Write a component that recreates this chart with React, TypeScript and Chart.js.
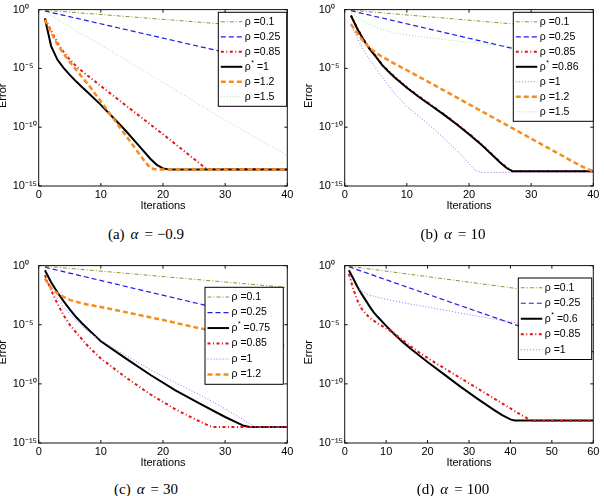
import React, { useEffect, useRef } from 'react';
import { Chart, registerables } from 'chart.js';

Chart.register(...registerables);

// Each series: [iteration, log10(error)] breakpoints of the convergence history.
type Pt = [number, number];

const iterTicks40 = [0, 10, 20, 30, 40];
const iterTicks60 = [0, 10, 20, 30, 40, 50, 60];
const errTickValues = [1, 1e-5, 1e-10, 1e-15];
const errTickLabels = ['10⁰', '10⁻⁵', '10⁻¹⁰', '10⁻¹⁵'];

const panelTags = ['(a)', '(b)', '(c)', '(d)'];
const alphaLabels = ['−0.9', '10', '30', '100'];

// (a) alpha = -0.9
const aRho01: Pt[] = [[1, -0.05], [40, -1.65]];
const aRho025: Pt[] = [[1, -0.12], [40, -4.85]];
const aRho085: Pt[] = [[1, -0.75], [2, -1.8], [3, -2.8], [4, -3.6], [5, -4.25], [6, -4.8], [7, -5.25], [10, -6.5], [15, -8.55], [20, -10.6], [25, -12.7], [27, -13.55], [40, -13.6]];
const aRhoStar: Pt[] = [[1, -0.75], [2, -3.1], [3, -4.25], [4, -4.95], [5, -5.55], [6, -6.1], [7, -6.6], [8, -7.1], [10, -8.1], [12, -9.2], [14, -10.3], [16, -11.5], [18, -12.7], [19, -13.2], [20, -13.5], [21, -13.6], [40, -13.6]];
const aRho12: Pt[] = [[1, -0.85], [2, -1.95], [3, -2.95], [4, -3.75], [5, -4.45], [6, -5.1], [7, -5.75], [8, -6.4], [10, -7.8], [12, -9.25], [14, -10.7], [16, -12.15], [17, -12.85], [18, -13.5], [19, -13.6], [40, -13.6]];
const aRho15: Pt[] = [[1, -0.2], [3, -0.8], [6, -1.8], [10, -3.0], [20, -6.2], [30, -9.4], [40, -12.4]];

// (b) alpha = 10
const bRho01: Pt[] = [[1, -0.05], [40, -1.8]];
const bRho025: Pt[] = [[1, -0.1], [40, -4.9]];
const bRho085: Pt[] = [[1, -0.5], [2, -1.55], [3, -2.5], [4, -3.3], [5, -3.95], [6, -4.65], [7, -5.2], [8, -5.7], [10, -6.6], [12, -7.4], [14, -8.15], [16, -8.9], [18, -9.7], [20, -10.55], [22, -11.45], [24, -12.45], [25, -12.95], [26, -13.4], [27, -13.75], [40, -13.75]];
const bRhoStar: Pt[] = [[1, -0.5], [2, -1.6], [3, -2.55], [4, -3.35], [5, -4.0], [6, -4.7], [7, -5.25], [8, -5.75], [10, -6.65], [12, -7.45], [14, -8.2], [16, -8.95], [18, -9.75], [20, -10.6], [22, -11.5], [24, -12.5], [25, -13.0], [26, -13.45], [27, -13.75], [40, -13.75]];
const bRho1: Pt[] = [[1, -1.2], [2, -2.4], [3, -3.4], [4, -4.25], [5, -5.0], [6, -5.7], [7, -6.4], [8, -7.1], [10, -8.25], [12, -9.1], [14, -10.0], [16, -10.95], [18, -11.95], [19, -12.5], [20, -13.1], [21, -13.7], [22, -13.85], [40, -13.85]];
const bRho12: Pt[] = [[1, -1.25], [2, -2.0], [3, -2.7], [4, -3.25], [5, -3.65], [6, -4.0], [8, -4.6], [10, -5.15], [14, -6.3], [20, -8.05], [26, -9.8], [32, -11.55], [38, -13.3], [40, -13.75]];
const bRho15: Pt[] = [[1, -0.3], [3, -1.0], [5, -1.5], [8, -2.0], [12, -2.3], [16, -2.55], [40, -3.9]];

// (c) alpha = 30
const cRho01: Pt[] = [[1, -0.05], [40, -1.85]];
const cRho025: Pt[] = [[1, -0.14], [40, -5.0]];
const cRhoStar: Pt[] = [[1, -0.4], [2, -1.4], [3, -2.25], [4, -3.0], [5, -3.7], [6, -4.35], [7, -4.9], [8, -5.4], [9, -5.9], [10, -6.4], [14, -7.85], [18, -9.25], [22, -10.55], [26, -11.7], [30, -12.8], [32, -13.3], [33, -13.55], [34, -13.65], [40, -13.65]];
const cRho085: Pt[] = [[1, -0.8], [2, -2.1], [3, -3.2], [4, -4.2], [5, -5.0], [6, -5.65], [7, -6.25], [8, -6.85], [10, -7.85], [14, -9.45], [18, -10.9], [22, -12.15], [25, -12.95], [27, -13.45], [28, -13.65], [40, -13.65]];
const cRho1: Pt[] = [[1, -1.0], [2, -2.0], [3, -2.8], [4, -3.5], [5, -4.1], [6, -4.65], [7, -5.15], [8, -5.6], [10, -6.3], [14, -7.6], [18, -8.8], [22, -9.9], [26, -10.95], [30, -12.1], [32, -12.75], [34, -13.4], [35, -13.65], [40, -13.65]];
const cRho12: Pt[] = [[1, -1.1], [2, -1.9], [3, -2.35], [4, -2.65], [5, -2.9], [7, -3.2], [10, -3.5], [15, -4.05], [20, -4.6], [25, -5.2], [30, -5.75], [35, -6.3], [40, -6.85]];

// (d) alpha = 100
const dRho01: Pt[] = [[1, -0.05], [60, -2.8]];
const dRho025: Pt[] = [[1, -0.1], [60, -7.3]];
const dRhoStar: Pt[] = [[1, -0.4], [2, -1.05], [3, -1.75], [4, -2.35], [5, -2.9], [6, -3.45], [7, -3.95], [8, -4.35], [10, -5.1], [12, -5.8], [14, -6.45], [16, -7.05], [18, -7.6], [20, -8.15], [24, -9.2], [28, -10.25], [32, -11.25], [36, -12.2], [38, -12.65], [40, -13.0], [41, -13.1], [60, -13.1]];
const dRho085: Pt[] = [[1, -0.7], [2, -1.9], [3, -2.9], [4, -3.6], [5, -4.05], [6, -4.4], [8, -4.9], [10, -5.3], [12, -5.75], [14, -6.3], [16, -6.85], [18, -7.35], [20, -7.8], [22, -8.25], [26, -9.1], [30, -9.95], [34, -10.8], [38, -11.65], [42, -12.5], [45, -13.1], [46, -13.15], [60, -13.15]];
const dRho1: Pt[] = [[1, -0.8], [2, -1.5], [3, -1.9], [4, -2.15], [6, -2.5], [10, -2.85], [15, -3.2], [20, -3.5], [30, -4.15], [40, -4.75], [50, -5.3], [60, -5.85]];

type LineStyle = { color: string; width: number; dash: number[] };

const styles: Record<string, LineStyle> = {
  olive: { color: 'rgb(135,150,50)', width: 1, dash: [4, 2, 1, 2] },
  blue: { color: 'rgb(30,30,230)', width: 1.2, dash: [5, 3] },
  red: { color: 'rgb(230,20,20)', width: 2, dash: [3, 2.5, 1, 2.5] },
  black: { color: '#000', width: 2, dash: [] },
  orange: { color: 'rgb(245,140,30)', width: 2.5, dash: [5, 3] },
  green: { color: 'rgb(165,222,155)', width: 1, dash: [1, 2] },
  purple: { color: 'rgb(150,110,240)', width: 1, dash: [1, 2] },
};

type Series = { label: string; pts: Pt[]; style: string };
type LegendSpec = { right: number; top: number; width: number; rowH: number };
type PanelSpec = {
  left: number;
  top: number;
  height: number;
  xMax: number;
  xTicks: number[];
  series: Series[];
  legend: LegendSpec;
};

const FONT = '"Liberation Sans", Arial, Helvetica, sans-serif';
const CANVAS_W = 310;

function drawLegendLabel(ctx: CanvasRenderingContext2D, label: string, x: number, y: number) {
  ctx.fillStyle = '#000';
  ctx.textBaseline = 'middle';
  ctx.textAlign = 'left';
  const main = `10.5px ${FONT}`;
  const parts = label.split('*');
  ctx.font = main;
  ctx.fillText(parts[0], x, y);
  let cx = x + ctx.measureText(parts[0]).width;
  if (parts.length > 1) {
    ctx.font = `7px ${FONT}`;
    ctx.fillText('*', cx + 0.5, y - 4);
    cx += ctx.measureText('*').width + 0.5;
    ctx.font = main;
    ctx.fillText(parts[1], cx, y);
  }
}

// Axes box with inward ticks on all sides, y-axis title and a boxed legend.
const panelFrame = {
  id: 'panelFrame',
  afterDatasetsDraw(chart: any, _args: any, opts: any) {
    const { ctx, chartArea, scales } = chart;
    const { left, top, right, bottom } = chartArea;
    ctx.save();
    ctx.setLineDash([]);
    ctx.strokeStyle = '#111';
    ctx.lineWidth = 1;
    ctx.beginPath();
    const tl = 3;
    scales.x.ticks.forEach((t: any) => {
      const px = scales.x.getPixelForValue(t.value);
      ctx.moveTo(px, bottom);
      ctx.lineTo(px, bottom - tl);
      ctx.moveTo(px, top);
      ctx.lineTo(px, top + tl);
    });
    scales.y.ticks.forEach((t: any) => {
      const py = scales.y.getPixelForValue(t.value);
      ctx.moveTo(left, py);
      ctx.lineTo(left + tl, py);
      ctx.moveTo(right, py);
      ctx.lineTo(right - tl, py);
    });
    ctx.stroke();
    ctx.strokeRect(left, top, right - left, bottom - top);

    // y-axis title
    ctx.save();
    ctx.translate(opts.titleX, (top + bottom) / 2 - 2);
    ctx.rotate(-Math.PI / 2);
    ctx.font = `11px ${FONT}`;
    ctx.fillStyle = '#000';
    ctx.textAlign = 'center';
    ctx.textBaseline = 'middle';
    ctx.fillText('Error', 0, 0);
    ctx.restore();

    // legend
    const lg: LegendSpec = opts.legend;
    const datasets = chart.data.datasets;
    const h = datasets.length * lg.rowH + 4;
    const x0 = right - lg.right - lg.width;
    const y0 = top + lg.top;
    ctx.fillStyle = '#fff';
    ctx.fillRect(x0, y0, lg.width, h);
    ctx.strokeStyle = '#000';
    ctx.lineWidth = 1;
    ctx.strokeRect(x0, y0, lg.width, h);
    datasets.forEach((ds: any, i: number) => {
      const cy = y0 + 2 + lg.rowH * (i + 0.5);
      ctx.save();
      ctx.strokeStyle = ds.borderColor;
      ctx.lineWidth = ds.borderWidth;
      ctx.setLineDash(ds.borderDash || []);
      ctx.beginPath();
      ctx.moveTo(x0 + 2.5, cy);
      ctx.lineTo(x0 + 24, cy);
      ctx.stroke();
      ctx.restore();
      drawLegendLabel(ctx, ds.label, x0 + 26.5, cy);
    });
    ctx.restore();
  },
};

function buildConfig(spec: PanelSpec): any {
  const n = spec.series.length;
  const tickFont = { family: FONT, size: 11 };
  return {
    type: 'line',
    data: {
      datasets: spec.series.map((s, i) => {
        const st = styles[s.style];
        return {
          label: s.label,
          data: s.pts.map(([k, e]) => ({ x: k, y: Math.pow(10, e) })),
          borderColor: st.color,
          borderWidth: st.width,
          borderDash: st.dash,
          pointRadius: 0,
          fill: false,
          tension: 0,
          order: n - i,
        };
      }),
    },
    options: {
      animation: false,
      responsive: false,
      maintainAspectRatio: false,
      events: [],
      layout: { padding: { left: 22.7, right: 12.7, top: 8.3, bottom: 0 } },
      plugins: {
        legend: { display: false },
        tooltip: { enabled: false },
        panelFrame: { titleX: 13, legend: spec.legend },
      },
      scales: {
        x: {
          type: 'linear',
          min: 0,
          max: spec.xMax,
          grid: { display: false, drawTicks: false },
          border: { display: false },
          ticks: { padding: 2, color: '#000', font: tickFont, autoSkip: false },
          afterBuildTicks: (s: any) => {
            s.ticks = spec.xTicks.map((v) => ({ value: v }));
          },
          afterFit: (s: any) => {
            s.height = 29;
          },
          title: {
            display: true,
            text: 'Iterations',
            color: '#000',
            font: tickFont,
            padding: { top: 0, bottom: 2 },
          },
        },
        y: {
          type: 'logarithmic',
          min: 1e-15,
          max: 1,
          grid: { display: false, drawTicks: false },
          border: { display: false },
          ticks: {
            crossAlign: 'far',
            color: '#000',
            font: tickFont,
            autoSkip: false,
            callback: (v: number) => {
              const i = errTickValues.indexOf(v);
              return i >= 0 ? errTickLabels[i] : '';
            },
          },
          afterBuildTicks: (s: any) => {
            s.ticks = errTickValues.map((v) => ({ value: v }));
          },
          afterFit: (s: any) => {
            s.width = 26;
          },
        },
      },
    },
    plugins: [panelFrame],
  };
}

const panels: PanelSpec[] = [
  {
    left: -10, top: 0, height: 215, xMax: 40, xTicks: iterTicks40,
    legend: { right: 0.6, top: 2.7, width: 68.4, rowH: 15 },
    series: [
      { label: 'ρ =0.1', pts: aRho01, style: 'olive' },
      { label: 'ρ =0.25', pts: aRho025, style: 'blue' },
      { label: 'ρ =0.85', pts: aRho085, style: 'red' },
      { label: 'ρ* =1', pts: aRhoStar, style: 'black' },
      { label: 'ρ =1.2', pts: aRho12, style: 'orange' },
      { label: 'ρ =1.5', pts: aRho15, style: 'green' },
    ],
  },
  {
    left: 296, top: 0, height: 215, xMax: 40, xTicks: iterTicks40,
    legend: { right: 0, top: 2.7, width: 80, rowH: 15 },
    series: [
      { label: 'ρ =0.1', pts: bRho01, style: 'olive' },
      { label: 'ρ =0.25', pts: bRho025, style: 'blue' },
      { label: 'ρ =0.85', pts: bRho085, style: 'red' },
      { label: 'ρ* =0.86', pts: bRhoStar, style: 'black' },
      { label: 'ρ =1', pts: bRho1, style: 'purple' },
      { label: 'ρ =1.2', pts: bRho12, style: 'orange' },
      { label: 'ρ =1.5', pts: bRho15, style: 'green' },
    ],
  },
  {
    left: -10, top: 256, height: 216, xMax: 40, xTicks: iterTicks40,
    legend: { right: 4, top: 21.7, width: 78.3, rowH: 15.5 },
    series: [
      { label: 'ρ =0.1', pts: cRho01, style: 'olive' },
      { label: 'ρ =0.25', pts: cRho025, style: 'blue' },
      { label: 'ρ* =0.75', pts: cRhoStar, style: 'black' },
      { label: 'ρ =0.85', pts: cRho085, style: 'red' },
      { label: 'ρ =1', pts: cRho1, style: 'purple' },
      { label: 'ρ =1.2', pts: cRho12, style: 'orange' },
    ],
  },
  {
    left: 296, top: 256, height: 216, xMax: 60, xTicks: iterTicks60,
    legend: { right: 1.6, top: 12.4, width: 73.4, rowH: 15.5 },
    series: [
      { label: 'ρ =0.1', pts: dRho01, style: 'olive' },
      { label: 'ρ =0.25', pts: dRho025, style: 'blue' },
      { label: 'ρ* =0.6', pts: dRhoStar, style: 'black' },
      { label: 'ρ =0.85', pts: dRho085, style: 'red' },
      { label: 'ρ =1', pts: dRho1, style: 'purple' },
    ],
  },
];

const captionCenters = [
  { x: 146, y: 234 },
  { x: 453, y: 234 },
  { x: 146, y: 489 },
  { x: 453, y: 489 },
];

function Panel({ spec }: { spec: PanelSpec }) {
  const ref = useRef<HTMLCanvasElement>(null);
  useEffect(() => {
    if (!ref.current) return;
    const chart = new Chart(ref.current, buildConfig(spec));
    return () => chart.destroy();
  }, [spec]);
  return (
    <canvas
      ref={ref}
      width={CANVAS_W}
      height={spec.height}
      style={{ position: 'absolute', left: spec.left, top: spec.top, width: CANVAS_W, height: spec.height }}
    />
  );
}

function Caption({ tag, alpha, x, y }: { tag: string; alpha: string; x: number; y: number }) {
  return (
    <div
      style={{
        position: 'absolute',
        left: x - 100,
        top: y - 9,
        width: 200,
        height: 18,
        lineHeight: '18px',
        textAlign: 'center',
        fontFamily: '"Liberation Serif", "Times New Roman", serif',
        fontSize: 15,
        color: '#000',
        whiteSpace: 'nowrap',
      }}
    >
      <span>{tag}</span>
      <i style={{ marginLeft: 6 }}>α</i>
      <span style={{ margin: '0 4px 0 6px' }}>=</span>
      <span>{alpha}</span>
    </div>
  );
}

export default function App() {
  return (
    <div
      style={{
        position: 'absolute',
        left: 0,
        top: 0,
        width: 604,
        height: 496,
        overflow: 'hidden',
        background: '#fff',
      }}
    >
      {panels.map((p, i) => (
        <Panel key={i} spec={p} />
      ))}
      {captionCenters.map((c, i) => (
        <Caption key={i} tag={panelTags[i]} alpha={alphaLabels[i]} x={c.x} y={c.y} />
      ))}
    </div>
  );
}
